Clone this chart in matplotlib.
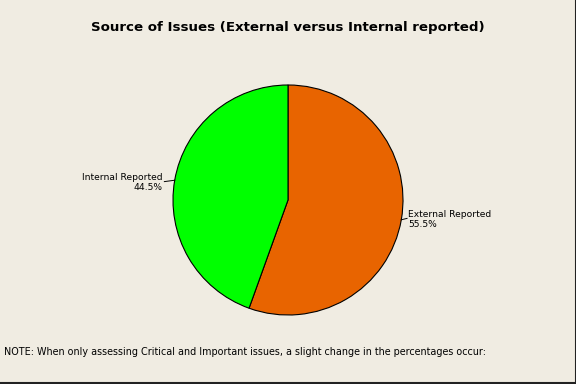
import numpy as np
import matplotlib.pyplot as plt
from matplotlib.lines import Line2D

labels = ['External Reported', 'Internal Reported']
values = [55.5, 44.5]
colors = ['#E86400', '#00FF00']

title = 'Source of Issues (External versus Internal reported)'
note = ('NOTE: When only assessing Critical and Important issues, '
        'a slight change in the percentages occur:')

bg = '#F0ECE2'

fig = plt.figure(figsize=(5.76, 3.84), dpi=100)
fig.patch.set_facecolor(bg)

ax = fig.add_axes([173/576, 69/384, 230/576, 230/384])
ax.set_facecolor(bg)
wedges, _ = ax.pie(values, colors=colors, startangle=90, counterclock=False,
                   wedgeprops=dict(edgecolor='black', linewidth=0.8))
ax.set_xlim(-1, 1)
ax.set_ylim(-1, 1)
ax.set_aspect('equal')
ax.axis('off')

for w, lab, v in zip(wedges, labels, values):
    ang = np.deg2rad((w.theta1 + w.theta2) / 2)
    x, y = np.cos(ang), np.sin(ang)
    if x > 0:
        tx, ha = x + 0.05, 'left'
    else:
        tx, ha = x - 0.09, 'right'
    ty = y - 0.012 * np.sign(y)
    ax.plot([x, tx], [y, ty], color='black', lw=0.7, clip_on=False)
    ax.text(tx + 0.012 * np.sign(x), ty - 0.01, '%s\n%.1f%%' % (lab, v),
            ha=ha, va='center', fontsize=6.6, linespacing=1.15,
            multialignment=ha)

fig.text(0.5, 1 - 28/384, title, ha='center', va='center',
         fontsize=9.6, fontweight='bold')
fig.text(4/576, 1 - 352/384, note, ha='left', va='center', fontsize=6.9)

# dark frame on right and bottom edges only
fig.lines.append(Line2D([0, 1, 1], [0.002, 0.002, 1], transform=fig.transFigure,
                        color='#222222', lw=1.5))

fig.savefig('out.png', dpi=100, facecolor=bg)
